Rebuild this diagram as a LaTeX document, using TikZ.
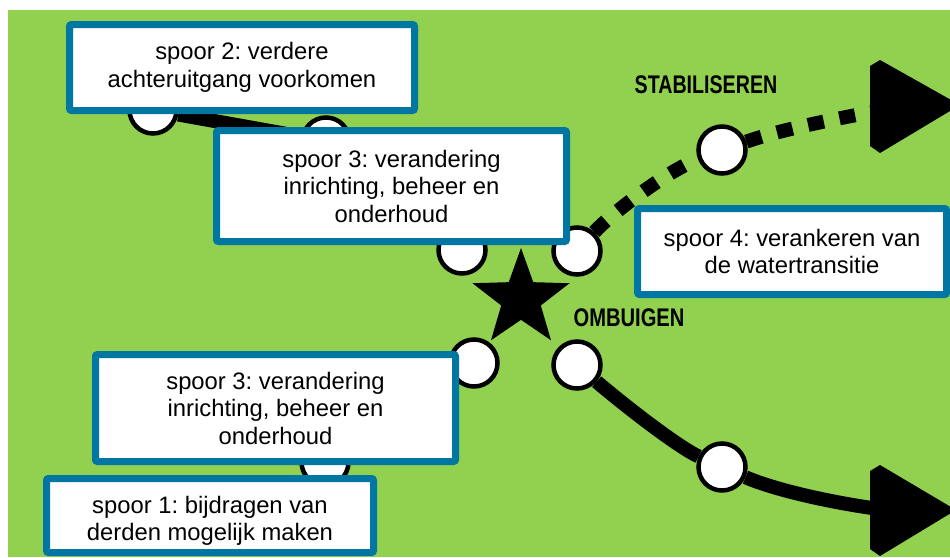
\documentclass[tikz,border=0pt]{standalone}
\usepackage{fontspec}
\usepackage{graphicx}
\setmainfont{Liberation Sans}
\usetikzlibrary{shapes.geometric}
\definecolor{lawn}{HTML}{92D050}
\definecolor{sea}{HTML}{0076A3}
\frenchspacing

\begin{document}
\begin{tikzpicture}[x=1pt,y=-1pt,
  spoor/.style={draw=sea, fill=white, line width=7pt, rounded corners=2pt, align=center, inner sep=0pt, font=\fontsize{23.8}{27.5}\selectfont},
  halte/.style={circle, draw, fill=white, line width=4.5pt, minimum size=47pt, inner sep=0pt},
  koers/.style={line width=14pt},
  fase/.style={font=\fontsize{25.5}{28}\selectfont\bfseries}]
  \useasboundingbox (0,0) rectangle (950,557);
  \clip (0,0) rectangle (950,557);
  \fill [lawn] (8,10) rectangle (950,557);

  \node [halte] (h1) at (153,110) {};
  \node [halte] (h2) at (326,141) {};
  \node [halte] (h3) at (462,250) {};
  \node [halte] (h4) at (577,251) {};
  \node [halte] (h5) at (722,150) {};
  \node [halte] (h6) at (474,363) {};
  \node [halte] (h7) at (577,365) {};
  \node [halte] (h8) at (722,467) {};
  \node [halte] (h9) at (325,462) {};
  \coordinate (stab) at (872,112);
  \coordinate (omb) at (872,508);

  \draw [koers] (h1) -- (h2);
  \draw [koers, dash pattern=on 16pt off 16pt] (h4) .. controls (610,215) and (665,172) .. (h5);
  \draw [koers, dash pattern=on 16pt off 16pt] (h5) .. controls (780,130) and (830,120) .. (stab);
  \draw [koers] (h7) .. controls (630,410) and (680,448) .. (h8);
  \draw [koers] (h8) .. controls (775,490) and (830,502) .. (omb);
  \fill (870,66) -- (880,60) -- (960,105) -- (880,153) -- (870,146) -- cycle;
  \fill (870,471) -- (880,465) -- (956,510) -- (880,556) -- (870,549) -- cycle;

  \node [star, star points=5, star point ratio=2.45, fill, minimum size=102pt, inner sep=0pt] (ster) at (521,299) {};
  \node [fase] (lstab) at (706,85) {\scalebox{0.77}[1]{STABILISEREN}};
  \node [fase] (lomb) at (629,318) {\scalebox{0.79}[1]{OMBUIGEN}};

  \node [spoor, minimum width=345pt, minimum height=86pt] (s2) at (242,67.5) {spoor 2: verdere\\achteruitgang voorkomen};
  \node [spoor, minimum width=350pt, minimum height=111pt] (s3a) at (391.5,186) {spoor 3: verandering\\inrichting, beheer en\\onderhoud};
  \node [spoor, minimum width=309pt, minimum height=86pt] (s4) at (792,251.5) {spoor 4: verankeren van\\de watertransitie};
  \node [spoor, minimum width=360pt, minimum height=107pt] (s3b) at (275.5,408) {spoor 3: verandering\\inrichting, beheer en\\onderhoud};
  \node [spoor, minimum width=327pt, minimum height=74pt, text height=55pt] (s1) at (210,515.5) {spoor 1: bijdragen van\\derden mogelijk maken};
\end{tikzpicture}
\end{document}
